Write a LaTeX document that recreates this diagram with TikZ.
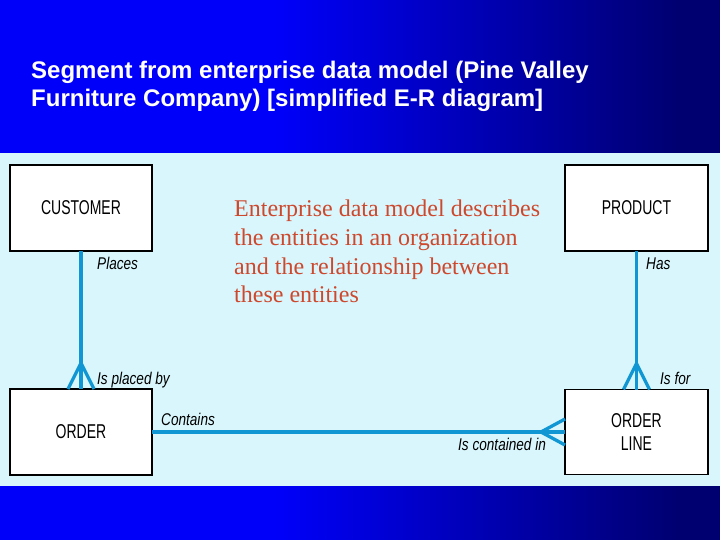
\documentclass[tikz,border=0pt]{standalone}
\usepackage{fontspec}
\setmainfont{Liberation Serif}
\newfontfamily\titlefont{Liberation Sans}
\newfontfamily\boxfont[FakeStretch=0.7]{Liberation Sans}
\newfontfamily\relfont[FakeStretch=0.8]{Liberation Sans}
\usetikzlibrary{calc}
\definecolor{brightblue}{RGB}{0,0,250}
\definecolor{navyblue}{RGB}{0,0,112}
\definecolor{lightbg}{RGB}{216,246,252}
\definecolor{relblue}{RGB}{16,150,210}
\definecolor{notered}{RGB}{205,72,44}
\tikzset{
  entity/.style={draw=black, line width=1.3pt, fill=white, inner sep=0pt, outer sep=0pt,
    minimum width=142pt, minimum height=86pt, align=center,
    font=\boxfont\fontsize{20}{23}\selectfont},
  rel/.style={draw=relblue, line width=3.3pt, line join=miter},
  rellabel/.style={anchor=base west, inner sep=0pt, font=\relfont\itshape\fontsize{17}{20}\selectfont},
  titleline/.style={anchor=base west, inner sep=0pt, text=white, font=\titlefont\bfseries\fontsize{24}{28}\selectfont},
  noteline/.style={anchor=base west, inner sep=0pt, text=notered, font=\fontsize{24}{29}\selectfont}
}
\begin{document}
\begin{tikzpicture}[x=1pt,y=-1pt]
\useasboundingbox (0,0) rectangle (720,540);
% background bands
\fill[brightblue] (0,0) rectangle (276,153);
\shade[left color=brightblue, right color=navyblue] (275,0) rectangle (681,153);
\fill[navyblue] (680,0) rectangle (720,153);
\fill[brightblue] (0,486) rectangle (276,540);
\shade[left color=brightblue, right color=navyblue] (275,486) rectangle (681,540);
\fill[navyblue] (680,486) rectangle (720,540);
\fill[lightbg] (0,153) rectangle (720,486);
% title
\node[titleline] (title1) at (31,79) {Segment from enterprise data model (Pine Valley};
\node[titleline] (title2) at (31,107) {Furniture Company) [simplified E-R diagram]};
% entities
\node[entity] (cust) at (81,208) {CUSTOMER};
\node[entity, minimum width=143pt] (prod) at (636.5,208) {PRODUCT};
\node[entity] (order) at (81,432) {ORDER};
\node[entity, minimum width=143pt, minimum height=85pt] (oline) at (636.5,432) {ORDER\\LINE};
% relationships
\draw[rel] (cust.south) -- (order.north);
\coordinate (cfa) at ($(order.north)+(0,-26)$);
\draw[rel] ($(order.north)+(-13,0)$) -- (cfa) -- ($(order.north)+(13,0)$);
\draw[rel] (prod.south) -- (oline.north);
\coordinate (cfb) at ($(oline.north)+(0,-26)$);
\draw[rel] ($(oline.north)+(-13,0)$) -- (cfb) -- ($(oline.north)+(13,0)$);
\draw[rel] (order.east) -- (oline.west);
\coordinate (cfc) at ($(oline.west)+(-24,0)$);
\draw[rel] ($(oline.west)+(0,-13)$) -- (cfc) -- ($(oline.west)+(0,13)$);
% labels
\node[rellabel] (lplaces) at (97,269) {Places};
\node[rellabel] (lhas) at (646,269) {Has};
\node[rellabel] (lplacedby) at (97,384) {Is placed by};
\node[rellabel] (lisfor) at (660,384) {Is for};
\node[rellabel] (lcontains) at (161,425) {Contains};
\node[rellabel] (lcontained) at (458,450) {Is contained in};
% note
\node[noteline] (n1) at (234,216) {Enterprise data model describes};
\node[noteline] (n2) at (234,245) {the entities in an organization};
\node[noteline] (n3) at (234,274) {and the relationship between};
\node[noteline] (n4) at (234,302) {these entities};
\end{tikzpicture}
\end{document}
